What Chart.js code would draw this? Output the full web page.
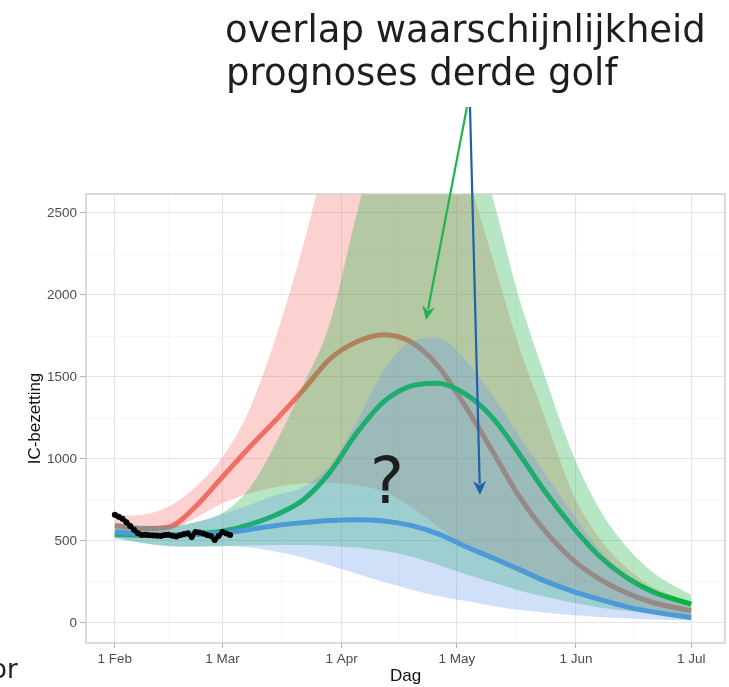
<!DOCTYPE html>
<html>
<head>
<meta charset="utf-8">
<script src="https://cdn.jsdelivr.net/npm/chart.js@4.4.0/dist/chart.umd.min.js"></script>
<style>
  html, body { margin: 0; padding: 0; background: #fff; }
  #wrap { position: relative; width: 729px; height: 687px; }
</style>
</head>
<body>
<div id="wrap"><canvas id="ic-chart"></canvas></div>
<script>
"use strict";

// days counted from 1 Feb
var days = [0, 7, 14, 21, 28, 35, 42, 49, 56, 63, 70, 77, 84, 91, 98, 105, 112, 119, 126, 133, 140, 150];

// red scenario
var redMid   = [595, 575, 585, 710, 890, 1070, 1240, 1420, 1610, 1715, 1758, 1715, 1570, 1330, 1060, 780, 560, 390, 270, 185, 125, 75];
var redLow   = [540, 530, 560, 640, 730, 790, 830, 850, 855, 840, 800, 710, 590, 470, 390, 310, 240, 180, 130, 95, 68, 40];
var redHigh  = [655, 660, 710, 830, 1010, 1300, 1750, 2300, 2950, 3500, 3800, 3800, 3400, 2800, 2250, 1700, 1250, 800, 520, 340, 220, 130];

// green scenario
var greenMid  = [540, 535, 535, 545, 560, 600, 660, 750, 920, 1160, 1350, 1445, 1462, 1400, 1260, 1040, 800, 590, 410, 280, 190, 115];
var greenLow  = [520, 490, 470, 465, 468, 472, 475, 475, 470, 460, 440, 405, 355, 300, 250, 200, 160, 125, 95, 75, 58, 45];
var greenHigh = [605, 595, 590, 615, 670, 820, 1100, 1450, 1830, 2500, 3100, 3500, 3500, 3100, 2620, 2000, 1500, 1040, 700, 470, 310, 170];

// blue scenario
var blueMid  = [555, 540, 535, 540, 548, 570, 595, 612, 625, 630, 622, 595, 545, 470, 400, 330, 255, 195, 145, 100, 68, 32];
var blueLow  = [515, 488, 468, 466, 470, 460, 435, 400, 350, 300, 250, 205, 165, 135, 105, 80, 62, 48, 37, 28, 22, 15];
var blueHigh = [605, 592, 588, 615, 665, 720, 780, 830, 960, 1230, 1540, 1715, 1740, 1610, 1400, 1150, 910, 670, 450, 295, 190, 95];

// observed IC occupancy
var obsDays   = [0, 1, 2, 3, 4, 5, 6, 7, 8, 9, 10, 11, 12, 13, 14, 15, 16, 17, 18, 19, 20, 21, 22, 23, 24, 25, 26, 27, 28, 29, 30];
var obsValues = [660, 648, 635, 615, 592, 568, 548, 536, 538, 535, 534, 532, 530, 536, 538, 532, 528, 535, 542, 548, 524, 555, 552, 545, 537, 530, 506, 530, 555, 546, 537];

// axes
var xTickDays = [0, 28, 59, 89, 120, 150];
var xTickLabels = ["1 Feb", "1 Mar", "1 Apr", "1 May", "1 Jun", "1 Jul"];
var xMinorDays = [14, 43.5, 74, 104.5, 135];
var yTicks = [0, 500, 1000, 1500, 2000, 2500];
var yMinor = [250, 750, 1250, 1750, 2250];

function pts(xs, ys) {
  return xs.map(function (x, i) { return { x: x, y: ys[i] }; });
}

function curve(label, ys, color, width, order) {
  return {
    label: label, data: pts(days, ys), order: order,
    borderColor: color, borderWidth: width, pointRadius: 0,
    cubicInterpolationMode: 'monotone', fill: false
  };
}

function band(label, ys, fillColor, order, fillTo) {
  return {
    label: label, data: pts(days, ys), order: order,
    borderColor: 'rgba(0,0,0,0)', borderWidth: 0, pointRadius: 0,
    backgroundColor: fillColor,
    cubicInterpolationMode: 'monotone', fill: fillTo
  };
}

function mixTicks(major, minor) {
  return major.map(function (v) { return { value: v, minor: false }; })
    .concat(minor.map(function (v) { return { value: v, minor: true }; }))
    .sort(function (a, b) { return a.value - b.value; });
}

function isMinor(ctx) { return ctx.tick && ctx.tick.minor; }

var gridOpts = {
  color: function (ctx) { return isMinor(ctx) ? '#f3f3f3' : '#e4e4e4'; },
  lineWidth: function (ctx) { return isMinor(ctx) ? 0.7 : 1.1; },
  tickColor: function (ctx) { return isMinor(ctx) ? 'rgba(0,0,0,0)' : '#b3b3b3'; }
};

var panelBorder = {
  id: 'panelBorder',
  afterDatasetsDraw: function (chart) {
    var a = chart.chartArea, c = chart.ctx;
    c.save();
    c.strokeStyle = '#cdcdcd';
    c.lineWidth = 1.4;
    c.strokeRect(a.left, a.top, a.right - a.left, a.bottom - a.top);
    c.restore();
  }
};

function arrow(c, x1, y1, x2, y2, color) {
  var ang = Math.atan2(y2 - y1, x2 - x1), len = 14, hw = 6.5;
  c.strokeStyle = color; c.fillStyle = color; c.lineWidth = 2.2;
  c.beginPath();
  c.moveTo(x1, y1);
  c.lineTo(x2 - Math.cos(ang) * len * 0.8, y2 - Math.sin(ang) * len * 0.8);
  c.stroke();
  c.beginPath();
  c.moveTo(x2, y2);
  c.lineTo(x2 - Math.cos(ang) * len - Math.sin(ang) * hw, y2 - Math.sin(ang) * len + Math.cos(ang) * hw);
  c.lineTo(x2 - Math.cos(ang) * len * 0.7, y2 - Math.sin(ang) * len * 0.7);
  c.lineTo(x2 - Math.cos(ang) * len + Math.sin(ang) * hw, y2 - Math.sin(ang) * len - Math.cos(ang) * hw);
  c.closePath();
  c.fill();
}

var slideNotes = {
  id: 'slideNotes',
  afterDraw: function (chart) {
    var c = chart.ctx;
    c.save();
    c.fillStyle = '#1e1e1e';
    c.textBaseline = 'alphabetic';
    c.textAlign = 'left';
    c.font = '37px "DejaVu Sans"';
    c.fillText('overlap waarschijnlijkheid', 225, 42);
    c.fillText('prognoses derde golf', 226, 85);
    c.font = '64px "DejaVu Sans"';
    c.fillText('?', 370, 503);
    c.font = '26px "DejaVu Sans"';
    c.fillText('or', -9, 678);
    arrow(c, 467, 107, 426, 320, '#1fb54e');
    arrow(c, 470, 107, 480, 495, '#1d62ab');
    c.restore();
  }
};

new Chart(document.getElementById('ic-chart'), {
  type: 'line',
  data: {
    datasets: [
      {
        label: 'observed', data: pts(obsDays, obsValues), order: 0,
        borderColor: '#000', borderWidth: 4.5, pointRadius: 3,
        pointBackgroundColor: '#000', pointBorderWidth: 0, fill: false
      },
      curve('blue', blueMid, '#4d9ad9', 5, 1),
      band('blue high', blueHigh, 'rgba(100,152,235,0.3)', 2, '+1'),
      band('blue low', blueLow, 'rgba(0,0,0,0)', 3, false),
      curve('green', greenMid, '#00b63a', 5, 4),
      band('green high', greenHigh, 'rgba(30,178,70,0.32)', 5, '+1'),
      band('green low', greenLow, 'rgba(0,0,0,0)', 6, false),
      curve('red', redMid, '#f26e64', 5, 7),
      band('red high', redHigh, 'rgba(245,115,108,0.32)', 8, '+1'),
      band('red low', redLow, 'rgba(0,0,0,0)', 9, false)
    ]
  },
  options: {
    responsive: true,
    maintainAspectRatio: false,
    animation: false,
    layout: { padding: { left: 21, top: 194, right: 4, bottom: 0 } },
    plugins: { legend: { display: false }, tooltip: { enabled: false } },
    scales: {
      x: {
        type: 'linear', min: -7.5, max: 158.8,
        afterBuildTicks: function (s) { s.ticks = mixTicks(xTickDays, xMinorDays); },
        afterFit: function (s) { s.height = 44; },
        ticks: {
          autoSkip: false, maxRotation: 0, padding: 3, color: '#4d4d4d',
          font: { family: '"Liberation Sans", Arial, sans-serif', size: 13.5 },
          callback: function (v) { var i = xTickDays.indexOf(v); return i >= 0 ? xTickLabels[i] : ''; }
        },
        grid: Object.assign({ tickLength: 5 }, gridOpts),
        border: { display: false },
        title: {
          display: true, text: 'Dag', color: '#111',
          font: { family: '"Liberation Sans", Arial, sans-serif', size: 17 },
          padding: { top: 0, bottom: 0 }
        }
      },
      y: {
        type: 'linear', min: -122, max: 2616,
        afterBuildTicks: function (s) { s.ticks = mixTicks(yTicks, yMinor); },
        afterFit: function (s) { s.width = 65; },
        ticks: {
          autoSkip: false, padding: 3, color: '#4d4d4d',
          font: { family: '"Liberation Sans", Arial, sans-serif', size: 13.5 },
          callback: function (v) { return yTicks.indexOf(v) >= 0 ? String(v) : ''; }
        },
        grid: Object.assign({ tickLength: 6 }, gridOpts),
        border: { display: false },
        title: {
          display: true, text: 'IC-bezetting', color: '#111',
          font: { family: '"Liberation Sans", Arial, sans-serif', size: 17 },
          padding: { top: 4, bottom: 0 }
        }
      }
    }
  },
  plugins: [panelBorder, slideNotes]
});
</script>
</body>
</html>
